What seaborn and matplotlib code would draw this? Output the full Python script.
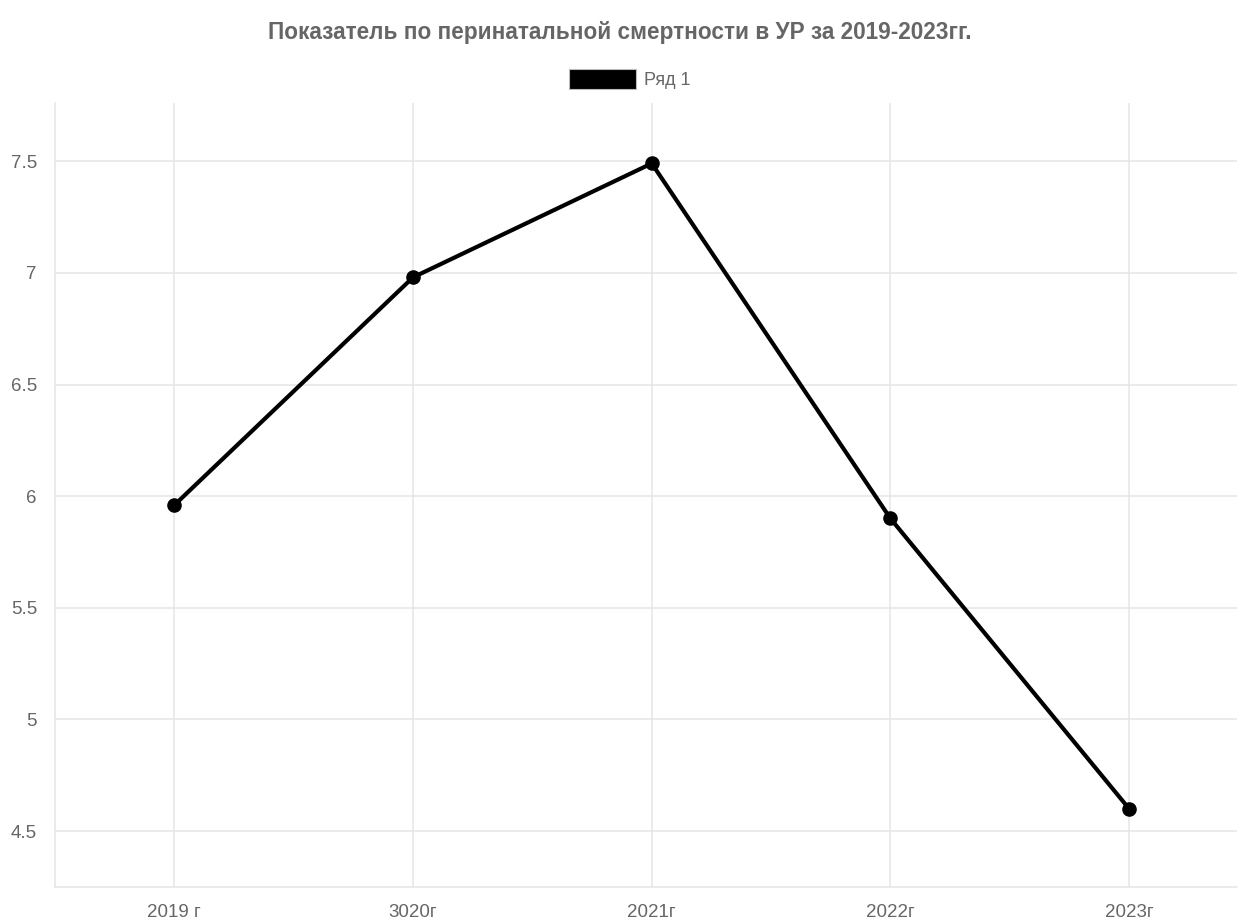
import numpy as np
import matplotlib
matplotlib.use("Agg")
import matplotlib.pyplot as plt
from matplotlib.patches import Patch
import pandas as pd
import seaborn as sns

years = ["2019 г", "3020г", "2021г", "2022г", "2023г"]
values = [5.96, 6.98, 7.49, 5.90, 4.60]
yticks = [4.5, 5, 5.5, 6, 6.5, 7, 7.5]
ytick_labels = ["4.5", "5", "5.5", "6", "6.5", "7", "7.5"]

df = pd.DataFrame({"year": years, "value": values})

sns.set_style("white")
plt.rcParams["font.family"] = ["Liberation Sans", "DejaVu Sans"]

grey = "#666666"
gridc = "#e5e5e5"

fig = plt.figure(figsize=(12.39, 9.21), dpi=100)
ax = fig.add_axes([0.0444, 0.037, 0.9536, 0.851])

sns.lineplot(data=df, x="year", y="value", sort=False, color="black",
             linewidth=3.0, marker="o", markersize=10.5, markeredgewidth=0,
             ax=ax, zorder=3)

ax.set_xlim(-0.5, 4.45)
ax.set_ylim(4.25, 7.76)
ax.set_yticks(yticks)
ax.set_yticklabels(ytick_labels)
ax.set_xlabel("")
ax.set_ylabel("")
ax.grid(True, color=gridc, linewidth=1.1, zorder=0)
ax.tick_params(axis="both", colors=gridc, labelcolor=grey, labelsize=13.5,
               length=9, width=1.1, pad=3)
ax.tick_params(axis="y", pad=4)
for side in ["top", "right"]:
    ax.spines[side].set_visible(False)
for side in ["left", "bottom"]:
    ax.spines[side].set_color(gridc)
    ax.spines[side].set_linewidth(1.1)

fig.suptitle("Показатель по перинатальной смертности в УР за 2019-2023гг.",
             x=0.5, y=0.977, fontsize=16.3, fontweight="bold", color=grey)

handle = Patch(facecolor="black", edgecolor="#bbbbbb", linewidth=0.8)
fig.legend([handle], ["Ряд 1"], loc="center", bbox_to_anchor=(0.508, 0.914),
           frameon=False, fontsize=13, labelcolor=grey,
           handlelength=3.75, handleheight=1.3, handletextpad=0.4)

fig.savefig("out.png", dpi=100)
